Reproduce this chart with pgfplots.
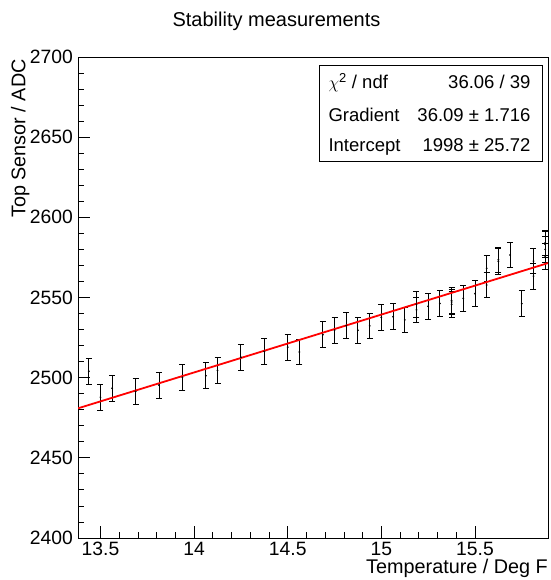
\documentclass[border=0pt]{standalone}
\usepackage{pgfplots}
\pgfplotsset{compat=1.18}
\usepackage{pgfplotstable}
\usepackage{fontspec}
\setmainfont{Liberation Sans}
\newcommand\lbl{\fontsize{18.5}{22}\selectfont}
\newcommand\tlbl{\fontsize{19.3}{22}\selectfont}
\newcommand\albl{\fontsize{19.8}{23}\selectfont}
\pgfplotstableread{
x y e
13.4375 2504.0 8
13.5 2487.8 8
13.5625 2493.4 8
13.6875 2491.4 8
13.8125 2495.3 8
13.9375 2500.2 8
14.0625 2501.2 8
14.125 2504.6 8
14.25 2512.7 8
14.375 2516.3 8
14.5 2519.0 8
14.5625 2516.0 8
14.6875 2526.8 8
14.75 2529.6 8
14.8125 2532.5 8
14.875 2529.6 8
14.9375 2532.3 8
15.0 2537.6 8
15.0625 2538.0 8
15.125 2536.0 8
15.1875 2545.8 8
15.1875 2542.3 8
15.25 2544.5 8
15.3125 2546.3 8
15.375 2548.2 8
15.375 2547.2 8
15.375 2545.8 8
15.4375 2549.5 8
15.5 2552.4 8
15.5625 2568.2 8
15.5625 2557.8 8
15.625 2573.5 8
15.625 2572.6 8
15.6875 2576.5 8
15.75 2546.2 8
15.8125 2572.7 8
15.8125 2563.3 8
15.875 2584.0 8
15.875 2583.2 8
15.875 2580.0 8
15.875 2575.8 8
}\datatable
\pgfplotstableread{
x y
13.38 2480.88
15.89 2571.47
}\fittable
\begin{document}
\begin{tikzpicture}
\useasboundingbox (0,0) rectangle (550pt,580pt);
\begin{axis}[
  at={(78pt,42pt)}, anchor=south west,
  scale only axis, width=470pt, height=481pt,
  xmin=13.38, xmax=15.89, ymin=2400, ymax=2700,
  xtick={13.5,14,14.5,15,15.5},
  xticklabels={13.5,14,14.5,15,15.5},
  ytick={2400,2450,...,2700},
  yticklabels={2400,2450,2500,2550,2600,2650,2700},
  minor x tick num=4, minor y tick num=4,
  tick align=inside, xtick pos=bottom, ytick pos=left,
  major tick length=12pt, minor tick length=6pt,
  every tick/.style={black, line width=0.8pt},
  axis line style={black, line width=0.9pt},
  /pgf/number format/assume math mode=true,
  tick label style={font=\tlbl},
  xticklabel style={anchor=north, inner sep=0pt, yshift=-3.7pt},
  yticklabel style={anchor=east, inner sep=0pt, xshift=-5pt},
  xlabel={Temperature / Deg F},
  ylabel={Top Sensor / ADC},
  xlabel style={font=\albl, at={(rel axis cs:1,0)}, anchor=base east, inner sep=0pt, yshift=-35.3pt},
  ylabel style={font=\albl, at={([xshift=-52.5pt,yshift=-2pt]rel axis cs:0,1)}, anchor=base east, inner sep=0pt},
  title={Stability measurements},
  title style={font=\fontsize{20}{24}\selectfont, at={(rel axis cs:0.4223,1)}, anchor=base, inner sep=0pt, yshift=24.5pt},
  clip=true,
]
\addplot[only marks, mark=*, mark size=0.7pt, black,
  error bars/.cd, y dir=both, y explicit,
  error bar style={black, line width=0.9pt},
  error mark options={black, line width=0.9pt, mark size=3pt, rotate=90}]
  table[x=x, y=y, y error=e] {\datatable};
\addplot[red, line width=1.8pt, no marks] table[x=x, y=y] {\fittable};
\draw[black, line width=0.9pt, fill=white] (rel axis cs:0.5128,0.7838) rectangle (rel axis cs:0.9887,0.9834);
\node[font=\lbl, anchor=base west, inner sep=0pt] at (rel axis cs:0.5326,0.9335) {$\chi$\textsuperscript{2} / ndf};
\node[font=\lbl, anchor=base east, inner sep=0pt] at (rel axis cs:0.9632,0.9335) {36.06 / 39};
\node[font=\lbl, anchor=base west, inner sep=0pt] at (rel axis cs:0.5326,0.8669) {Gradient};
\node[font=\lbl, anchor=base east, inner sep=0pt] at (rel axis cs:0.9632,0.8669) {36.09 ± 1.716};
\node[font=\lbl, anchor=base west, inner sep=0pt] at (rel axis cs:0.5326,0.8025) {Intercept};
\node[font=\lbl, anchor=base east, inner sep=0pt] at (rel axis cs:0.9632,0.8025) {1998 ± 25.72};
\end{axis}
\end{tikzpicture}
\end{document}
